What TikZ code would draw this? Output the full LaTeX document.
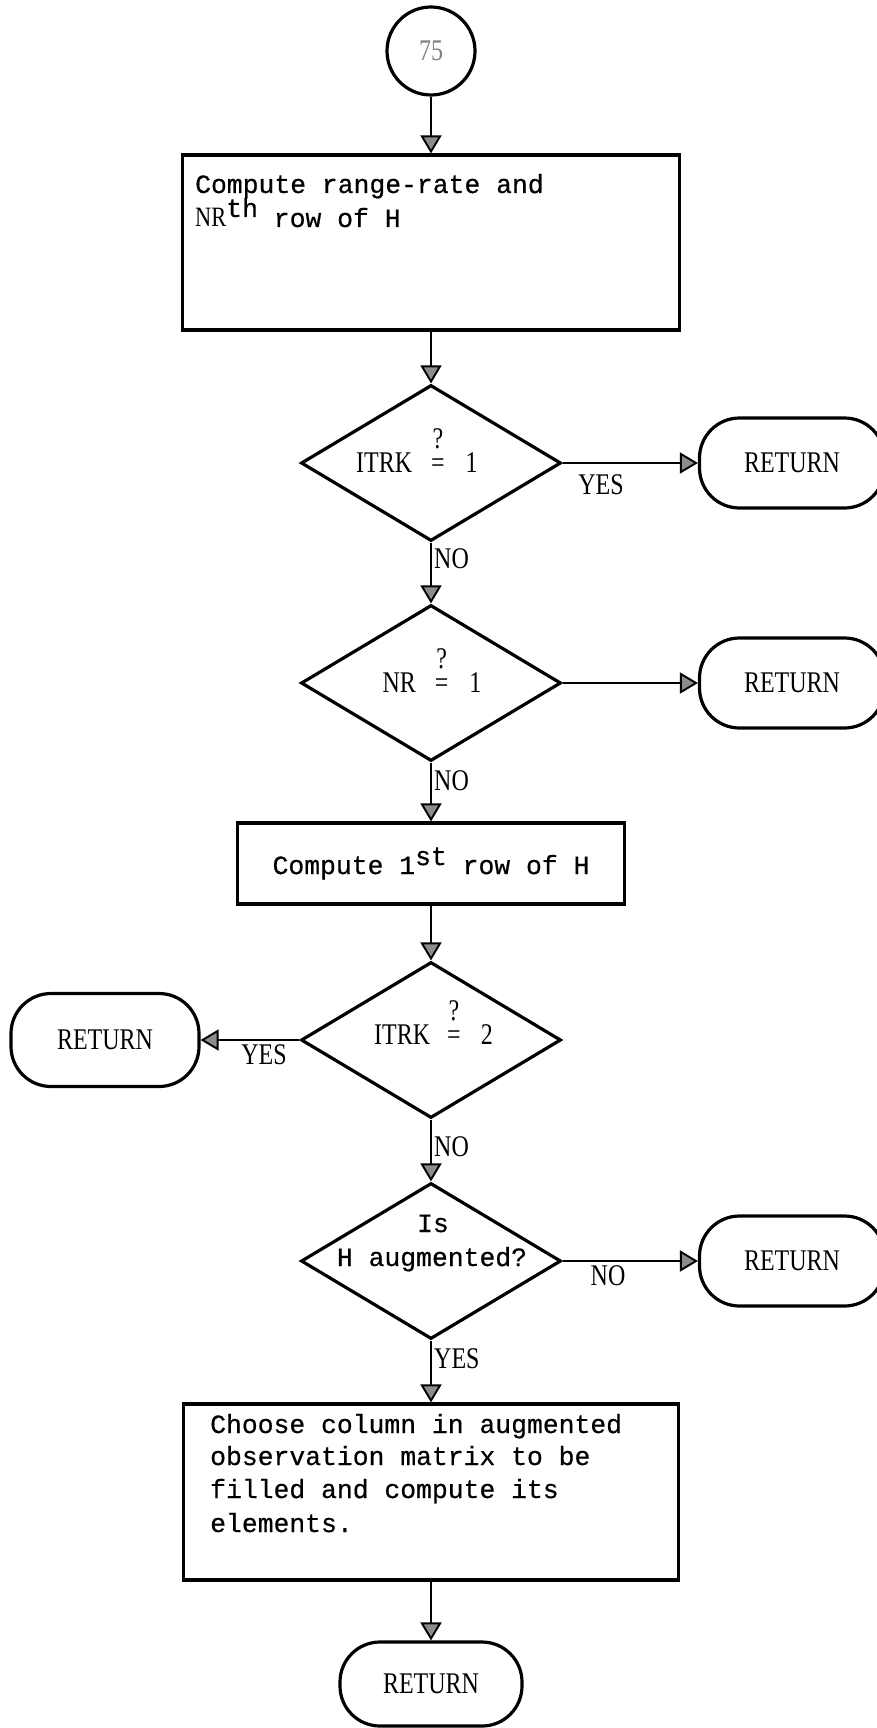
\documentclass[tikz,border=0pt]{standalone}
\usepackage{fontspec}
\newfontfamily\twfont[FakeBold=0.5]{Liberation Mono}
\newfontfamily\srfont[FakeStretch=0.8]{Liberation Serif}
\usetikzlibrary{shapes.geometric,arrows.meta}
\newcommand{\montext}{\twfont\fontsize{26.4}{33}\selectfont}
\newcommand{\sertext}{\srfont\fontsize{30}{36}\selectfont}
\newcommand{\qeq}{\ooalign{\hfil\raisebox{24pt}{?}\hfil\cr=\cr}}
\begin{document}
\begin{tikzpicture}[x=1pt,y=-1pt,
  shapeline/.style={draw=black, line width=3.2pt},
  procbox/.style={shapeline, rectangle, inner sep=0pt},
  decision/.style={shapeline, diamond, aspect=1.667, inner sep=0pt, minimum width=260pt, minimum height=156pt},
  term/.style={shapeline, rectangle, rounded corners=40pt, inner sep=0pt, minimum width=185pt, minimum height=90pt, font=\sertext},
  conn/.style={draw=black, line width=1.9pt, -{Triangle[width=21pt,length=18pt,fill=black!45]}},
  mono/.style={font=\montext, inner sep=0pt},
  lab/.style={font=\sertext, inner sep=0pt}]
\fill[white] (0,0) rectangle (877,1728);
\useasboundingbox (0,0) rectangle (877,1728);

% start connector
\node[shapeline, circle, minimum size=88pt, inner sep=0pt, font=\sertext, text=black!50] (c75) at (431,51) {75};

% box 1
\node[procbox, minimum width=497pt, minimum height=175pt] (box1) at (431,242.5) {};
\node[mono, anchor=base west] (b1a) at (195,193) {Compute range-rate and};
\node[mono, anchor=base west] (b1b) at (195,227) {{\srfont\fontsize{28}{33}\selectfont NR}\raisebox{10pt}{th} row of H};

% decision 1
\node[decision] (d1) at (431,463) {};
\node[lab, anchor=base] (d1t) at (417,472) {ITRK\hspace{19pt}\qeq\hspace{21pt}1};
\node[term] (r1) at (792,463) {RETURN};

% decision 2
\node[decision] (d2) at (431,683) {};
\node[lab, anchor=base] (d2t) at (432,692) {NR\hspace{19pt}\qeq\hspace{21pt}1};
\node[term] (r2) at (792,683) {RETURN};

% box 2
\node[procbox, minimum width=387pt, minimum height=81pt, font=\montext] (box2) at (431,863.5) {Compute 1\raisebox{9pt}{st} row of H};

% decision 3
\node[decision] (d3) at (431,1040) {};
\node[lab, anchor=base] (d3t) at (433.5,1044) {ITRK\hspace{17pt}\qeq\hspace{20pt}2};
\node[term, minimum width=188pt, minimum height=93pt] (r3) at (105,1040) {RETURN};

% decision 4
\node[decision] (d4) at (431,1261) {};
\node[mono, anchor=base] (d4a) at (433,1232) {Is};
\node[mono, anchor=base] (d4b) at (432,1266) {H augmented?};
\node[term] (r4) at (792,1261) {RETURN};

% box 3
\node[procbox, minimum width=495pt, minimum height=176pt] (box3) at (431,1492) {};
\node[mono, anchor=base west] (b3a) at (210,1433) {Choose column in augmented};
\node[mono, anchor=base west] (b3b) at (210,1465) {observation matrix to be};
\node[mono, anchor=base west] (b3c) at (210,1498) {filled and compute its};
\node[mono, anchor=base west] (b3d) at (210,1532) {elements.};

% end
\node[term, minimum width=182pt, minimum height=84pt] (r5) at (431,1684) {RETURN};

% connectors
\draw[conn] (c75.south) -- (box1.north);
\draw[conn] (box1.south) -- (d1.north);
\draw[conn] (d1.south) -- (d2.north);
\draw[conn] (d2.south) -- (box2.north);
\draw[conn] (box2.south) -- (d3.north);
\draw[conn] (d3.south) -- (d4.north);
\draw[conn] (d4.south) -- (box3.north);
\draw[conn] (box3.south) -- (r5.north);
\draw[conn] (d1.east) -- (r1.west);
\draw[conn] (d2.east) -- (r2.west);
\draw[conn] (d3.west) -- (r3.east);
\draw[conn] (d4.east) -- (r4.west);

% branch labels
\node[lab, anchor=base] (l1) at (601,494) {YES};
\node[lab, anchor=base west] (l2) at (434,568) {NO};
\node[lab, anchor=base west] (l3) at (434,790) {NO};
\node[lab, anchor=base] (l4) at (264,1064) {YES};
\node[lab, anchor=base west] (l5) at (434,1156) {NO};
\node[lab, anchor=base] (l6) at (608,1285) {NO};
\node[lab, anchor=base west] (l7) at (434,1368) {YES};
\end{tikzpicture}
\end{document}
